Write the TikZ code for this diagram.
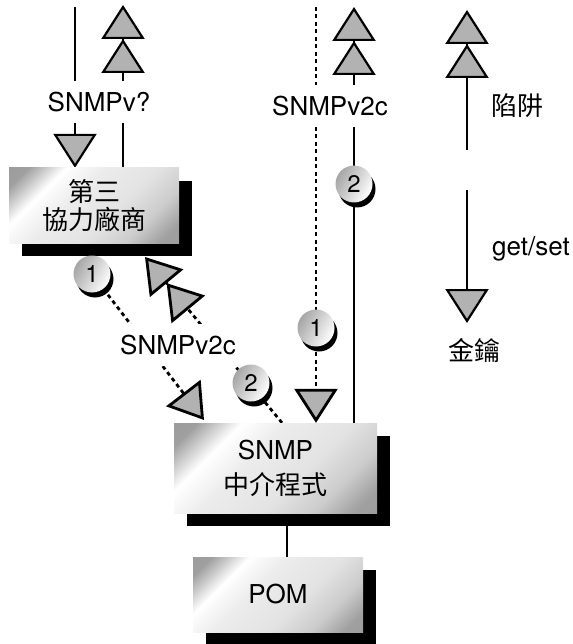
\documentclass[tikz,border=0pt]{standalone}
\usepackage{fontspec}
\setmainfont{TeX Gyre Heros}
\newfontfamily\cjk{Noto Sans CJK TC}
\usetikzlibrary{arrows.meta, shadows}

\pgfdeclarelayer{bg}
\pgfsetlayers{bg,main}
\pgfdeclarehorizontalshading{metal}{100bp}{color(0bp)=(gray!85); color(20bp)=(gray!75); color(31bp)=(white); color(42bp)=(gray!15); color(58bp)=(gray!22); color(70bp)=(gray!40); color(80bp)=(gray!75); color(100bp)=(gray!80)}

\tikzset{
  tri/.tip={Triangle[width=43pt, length=34pt, fill=gray!60, sep=0pt]},
  getset/.style={-{tri[]}},
  trap/.style={-{tri[]tri[]}},
  wire/.style={line width=2.2pt},
  poll/.style={line width=2.8pt, dash pattern=on 4pt off 3.5pt},
  box/.style={shading=metal, shading angle=-45, minimum width=170pt, minimum height=75pt,
    align=center, drop shadow={fill=black, opacity=1, shadow xshift=13pt, shadow yshift=-13pt}},
  numball/.style={circle, minimum size=37pt, inner sep=0pt, left color=gray!70, right color=white,
    shading angle=60, font=\fontsize{24}{24}\selectfont,
    drop shadow={fill=black, opacity=1, shadow xshift=3pt, shadow yshift=-5pt}},
  lab/.style={fill=white, inner xsep=2pt, inner ysep=11pt}
}

\begin{document}
\begin{tikzpicture}[x=1pt, y=-1pt, font=\fontsize{26}{28}\selectfont]
  \useasboundingbox (0,0) rectangle (572,644);

  % boxes
  \node[box] (third) at (94,205.5) {{\cjk 第三}\\{\cjk 協力廠商}};
  \node[box, minimum width=203pt, minimum height=90pt] (agent) at (275.5,468) {SNMP\\[7pt]{\cjk 中介程式}};
  \node[box] (pom) at (278,594.5) {POM};

  % step numbers
  \node[numball] (a1) at (92,274) {1};
  \node[numball] (a2) at (251,383) {2};
  \node[numball] (b1) at (316,328) {1};
  \node[numball] (b2) at (354,184) {2};

  % protocol labels
  \node[lab] (v1) at (99,102) {SNMPv?};
  \node[lab] (v2) at (330,106) {SNMPv2c};
  \node[lab] (v3) at (178,345) {SNMPv2c};

  % legend
  \node (trapname) at (517,106) {\cjk 陷阱};
  \node (gsname) at (531,249) {get/set};
  \node (keyname) at (474,350) {\cjk 金鑰};

  \coordinate (top1) at (75,7);
  \coordinate (top2) at (123,5);
  \coordinate (top3) at (316,7);
  \coordinate (top4) at (354,7);
  \coordinate (diagend) at (204,420);
  \coordinate (diagtip) at (145,257);
  \coordinate (trapbot) at (467,150);
  \coordinate (traptop) at (467,10);
  \coordinate (gstop) at (467,190);
  \coordinate (gsbot) at (467,323);

  \begin{pgfonlayer}{bg}
    \draw[wire, getset] (top1) -- (top1 |- third.north);
    \draw[wire, trap] (top2 |- third.north) -- (top2);
    \draw[poll, getset] (top3) -- (top3 |- agent.north);
    \draw[wire, trap] (top4 |- agent.north) -- (top4);
    \draw[poll, getset] (a1) -- (diagend);
    \draw[poll, trap] ([xshift=6.5pt]agent.north) -- (diagtip);
    \draw[wire] ([xshift=11.5pt]agent.south) -- ([xshift=9pt]pom.north);
    \draw[wire, trap] (trapbot) -- (traptop);
    \draw[wire, getset] (gstop) -- (gsbot);
  \end{pgfonlayer}
\end{tikzpicture}
\end{document}
